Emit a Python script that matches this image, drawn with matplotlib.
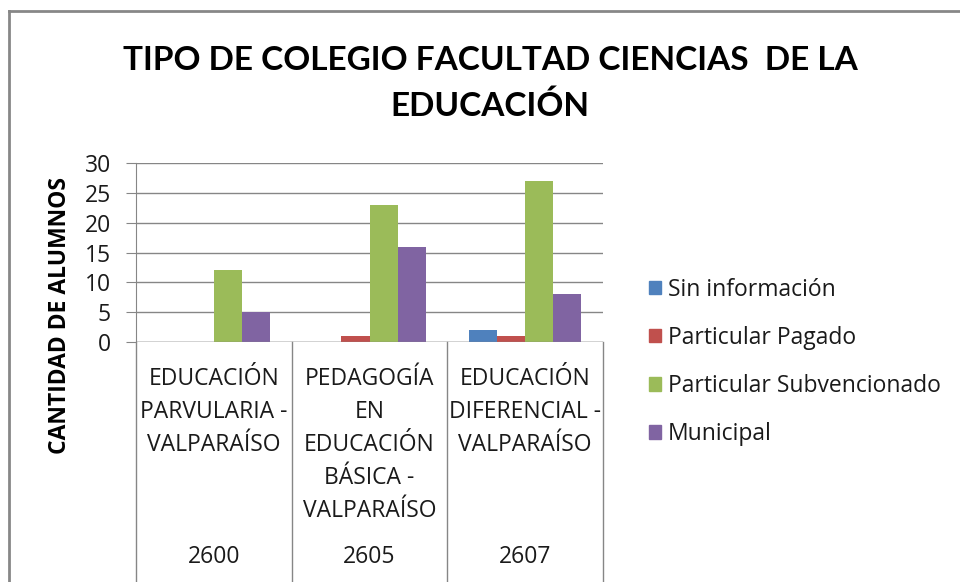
import numpy as np
import matplotlib.pyplot as plt
from matplotlib.lines import Line2D
import matplotlib.patches as mpatches

plt.rcParams["font.family"] = ["Open Sans", "DejaVu Sans"]

# data
programas = ["EDUCACIÓN\nPARVULARIA -\nVALPARAÍSO",
             "PEDAGOGÍA\nEN\nEDUCACIÓN\nBÁSICA -\nVALPARAÍSO",
             "EDUCACIÓN\nDIFERENCIAL -\nVALPARAÍSO"]
codigos = ["2600", "2605", "2607"]
series = ["Sin información", "Particular Pagado",
          "Particular Subvencionado", "Municipal"]
sin_info = [0, 0, 2]
part_pagado = [0, 1, 1]
part_subv = [12, 23, 27]
municipal = [5, 16, 8]
valores = [sin_info, part_pagado, part_subv, municipal]
colores = ["#4F81BD", "#C0504D", "#9BBB59", "#8064A2"]
GRIS = "#868686"
TXT = "#1a1a1a"

W, H = 960, 582
fig = plt.figure(figsize=(W / 100, H / 100), dpi=100)

# outer chart border (only top/left visible, rest is cropped)
fig.add_artist(Line2D([9 / W, 1.0], [1 - 11 / H, 1 - 11 / H],
                      transform=fig.transFigure, color="#878787", lw=2))
fig.add_artist(Line2D([9 / W, 9 / W], [0, 1 - 11 / H],
                      transform=fig.transFigure, color="#878787", lw=2))

x0, x1, y0, y1 = 136, 603, 342, 163
ax = fig.add_axes([x0 / W, 1 - y0 / H, (x1 - x0) / W, (y0 - y1) / H])

x = np.arange(len(codigos))
bw = 0.18
for i, (vals, c) in enumerate(zip(valores, colores)):
    ax.bar(x + (i - 1.5) * bw, vals, bw, color=c, edgecolor="none",
           label=series[i], zorder=3)

ax.set_xlim(-0.5, len(codigos) - 0.5)
ax.set_ylim(0, 30)
ax.set_yticks(range(0, 31, 5))
ax.yaxis.grid(True, color=GRIS, lw=1)
ax.set_axisbelow(True)
for s in ["top", "right", "bottom"]:
    ax.spines[s].set_visible(False)
ax.spines["left"].set_color(GRIS)
ax.tick_params(axis="y", length=7, color=GRIS, labelsize=16.5, pad=11,
               labelcolor=TXT)
ax.tick_params(axis="x", length=0, labelbottom=False)
ax.axhline(0, color=GRIS, lw=1, zorder=4)

# multi-level category axis: separators run down to the bottom edge
bottom_axes = -(H - y0) / (y0 - y1)
for b in np.arange(len(codigos) + 1) - 0.5:
    ax.plot([b, b], [0, bottom_axes], transform=ax.get_xaxis_transform(),
            color=GRIS, lw=1, clip_on=False)
for xi, (p, cod) in enumerate(zip(programas, codigos)):
    ax.text(xi, (y0 - 367) / (y0 - y1), p, transform=ax.get_xaxis_transform(),
            ha="center", va="top", fontsize=16.5, linespacing=1.5,
            color=TXT)
    ax.text(xi, (y0 - 557) / (y0 - y1), cod, transform=ax.get_xaxis_transform(),
            ha="center", va="center", fontsize=16.5, color=TXT)

ax.set_ylabel("CANTIDAD DE ALUMNOS", fontsize=16.5, fontweight="bold")
ax.yaxis.set_label_coords((72 - x0) / (x1 - x0), (y0 - 315) / (y0 - y1))

fig.text(490 / W, 1 - 61 / H, "TIPO DE COLEGIO FACULTAD CIENCIAS  DE LA",
         ha="center", va="center", fontsize=24, fontweight="bold",
         family="Lato")
fig.text(490 / W, 1 - 106 / H, "EDUCACIÓN",
         ha="center", va="center", fontsize=24, fontweight="bold",
         family="Lato")

handles = [mpatches.Patch(color=c, label=s) for s, c in zip(series, colores)]
fig.legend(handles=handles, loc="upper left",
           bbox_to_anchor=(628 / W, 1 - 257 / H), frameon=False,
           fontsize=16.5, handlelength=0.55, handleheight=0.55,
           handletextpad=0.3, labelspacing=1.05, labelcolor=TXT)

fig.savefig("out.png", dpi=100)
